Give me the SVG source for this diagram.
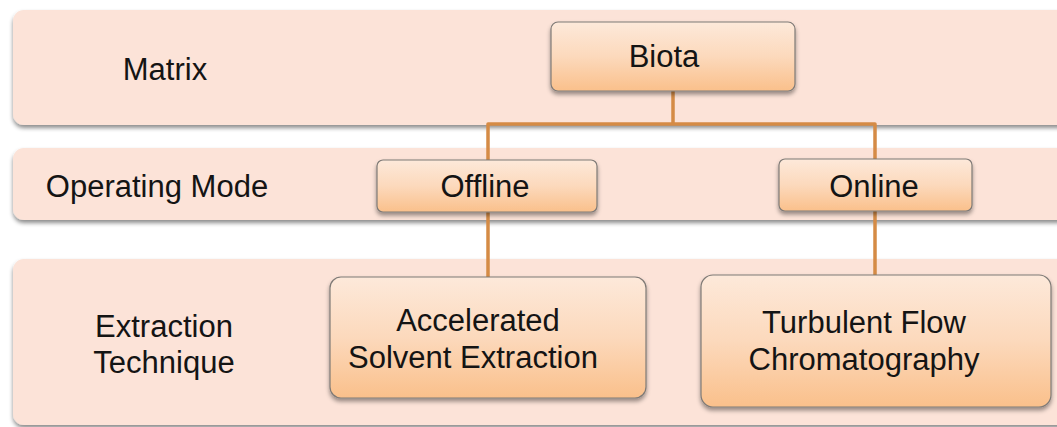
<svg xmlns="http://www.w3.org/2000/svg" width="1057" height="427" viewBox="0 0 1057 427">
  <defs>
    <linearGradient id="nodeFill" x1="0" y1="0" x2="0" y2="1">
      <stop offset="0" stop-color="#FDE9DA"/>
      <stop offset="0.5" stop-color="#FCD9BC"/>
      <stop offset="1" stop-color="#FAC08B"/>
    </linearGradient>
    <filter id="bandShadow" x="-5%" y="-20%" width="110%" height="150%">
      <feDropShadow dx="0" dy="3" stdDeviation="2" flood-color="#000" flood-opacity="0.45"/>
    </filter>
    <filter id="nodeShadow" x="-10%" y="-20%" width="120%" height="150%">
      <feDropShadow dx="0" dy="3" stdDeviation="2" flood-color="#000" flood-opacity="0.4"/>
    </filter>
  </defs>
  <style>
    .band { fill: #FCE3D8; filter: url(#bandShadow); }
    .node { fill: url(#nodeFill); stroke: #7F7A76; stroke-width: 1.2; filter: url(#nodeShadow); }
    .label { font-family: "Liberation Sans", Arial, sans-serif; font-size: 31px; fill: #141414; text-anchor: middle; }
    .link { fill: none; stroke: #D58B45; stroke-width: 3.5; stroke-linejoin: round; }
  </style>

  <!-- level bands -->
  <g id="band-matrix">
    <rect class="band" x="13" y="10" width="1070" height="115" rx="11"/>
    <text class="label" x="165" y="80">Matrix</text>
  </g>
  <g id="band-mode">
    <rect class="band" x="13" y="148" width="1070" height="72" rx="11"/>
    <text class="label" x="157" y="197">Operating Mode</text>
  </g>
  <g id="band-technique">
    <rect class="band" x="13" y="259" width="1070" height="166" rx="11"/>
    <text class="label" x="164" y="337">Extraction</text>
    <text class="label" x="164" y="373">Technique</text>
  </g>

  <!-- connectors -->
  <g id="connectors">
    <path class="link" d="M673 91 V124"/>
    <path class="link" d="M488 160 V124 H875 V159"/>
    <path class="link" d="M488 212 V277"/>
    <path class="link" d="M875 211 V275"/>
  </g>

  <!-- nodes -->
  <g id="node-biota">
    <rect class="node" x="551" y="22" width="244" height="69" rx="7"/>
    <text class="label" x="664" y="67">Biota</text>
  </g>
  <g id="node-offline">
    <rect class="node" x="377" y="160" width="220" height="52" rx="6"/>
    <text class="label" x="485" y="197">Offline</text>
  </g>
  <g id="node-online">
    <rect class="node" x="779" y="159" width="193" height="52" rx="6"/>
    <text class="label" x="874" y="197">Online</text>
  </g>
  <g id="node-ase">
    <rect class="node" x="330" y="277" width="316" height="121" rx="11"/>
    <text class="label" x="478" y="331">Accelerated</text>
    <text class="label" x="473" y="368">Solvent Extraction</text>
  </g>
  <g id="node-tfc">
    <rect class="node" x="701" y="275" width="350" height="132" rx="12"/>
    <text class="label" x="864" y="333">Turbulent Flow</text>
    <text class="label" x="864" y="370">Chromatography</text>
  </g>
</svg>
